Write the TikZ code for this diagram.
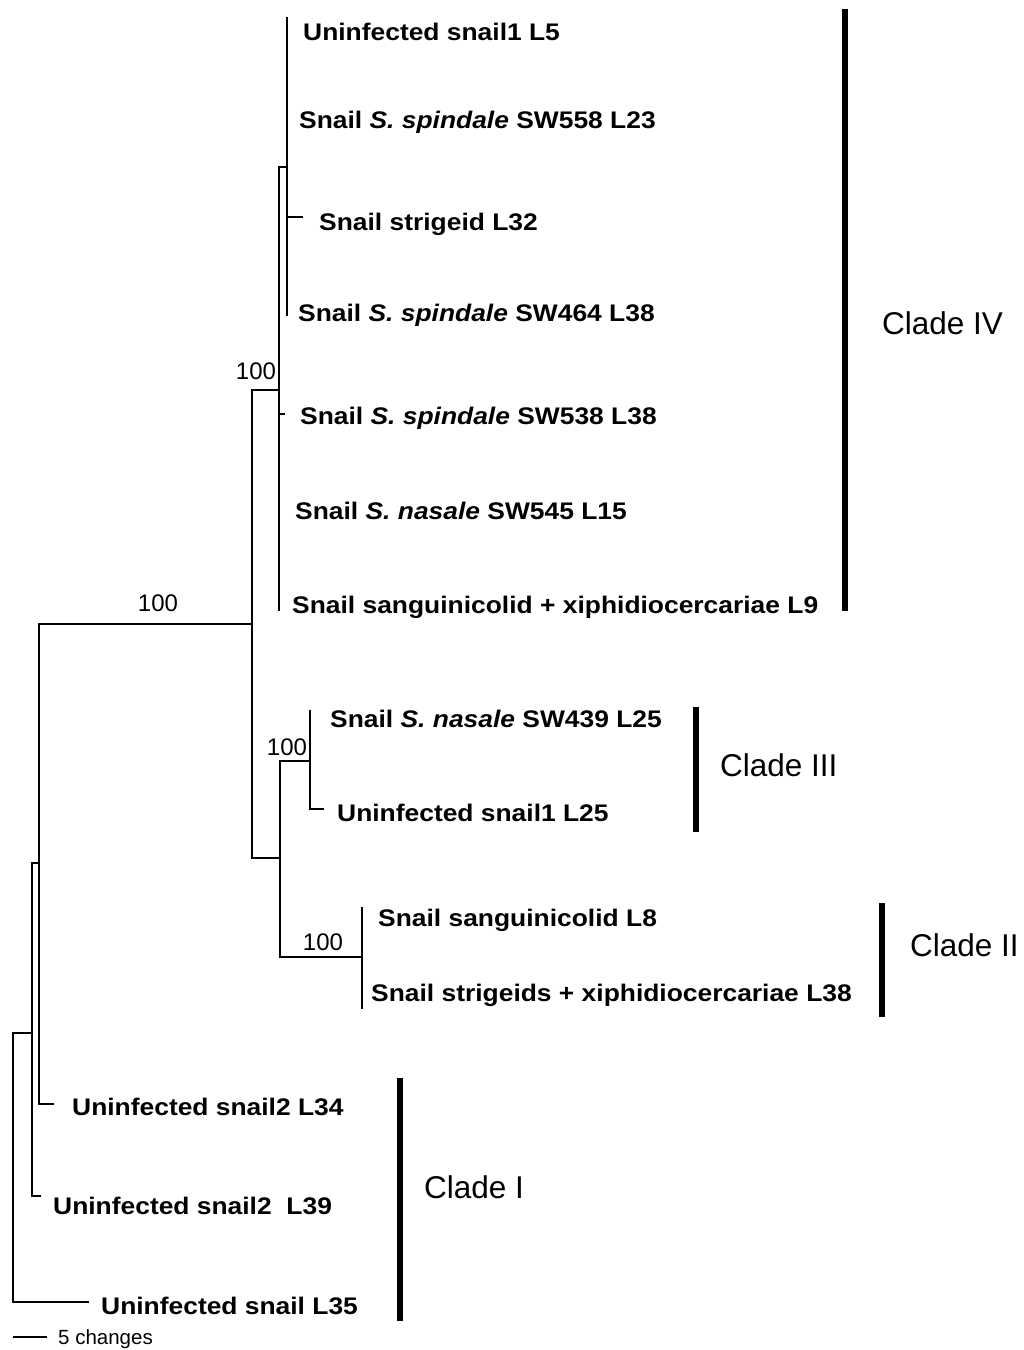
\documentclass[tikz,border=0pt]{standalone}
\usepackage{fontspec}
\setmainfont{Liberation Sans}
\newfontfamily\labfont{Liberation Sans}[FakeStretch=1.1]
\begin{document}
\begin{tikzpicture}[x=1pt,y=-1pt,
  br/.style={line width=1.4pt, line cap=rect},
  cladebar/.style={line width=6pt},
  lab/.style={font=\labfont\fontsize{24}{26}\selectfont\bfseries, inner sep=0pt, anchor=base west},
  boot/.style={font=\fontsize{24}{26}\selectfont, inner sep=0pt},
  cladelab/.style={font=\fontsize{31.5}{33}\selectfont, inner sep=0pt, anchor=west},
  scalelab/.style={font=\fontsize{20.5}{22}\selectfont, inner sep=0pt, anchor=base west}]
\useasboundingbox (0,0) rectangle (1024,1350);
\fill[white] (0,0) rectangle (1024,1350);

% internal nodes
\coordinate (R) at (13,1166);
\coordinate (H) at (32,1033);
\coordinate (D) at (39,863);
\coordinate (C) at (252,624);
\coordinate (B) at (279,390);
\coordinate (A) at (287,167);
\coordinate (E) at (280,858);
\coordinate (F) at (310,761);
\coordinate (G) at (362,957);

% tips
\coordinate (t5) at (287,18);
\coordinate (t23) at (287,120);
\coordinate (t32) at (302,217);
\coordinate (t464) at (287,315);
\coordinate (t538) at (284,414);
\coordinate (t545) at (279,511);
\coordinate (t9) at (279,610);
\coordinate (t439) at (310,711);
\coordinate (t25) at (323,809);
\coordinate (t8) at (362,908);
\coordinate (t38) at (362,1008);
\coordinate (t34) at (53,1104);
\coordinate (t39) at (40,1196);
\coordinate (t35) at (88,1302);

% verticals
\draw[br] (A|-t5) -- (A|-t464);
\draw[br] (B|-A) -- (B|-t9);
\draw[br] (C|-B) -- (C|-E);
\draw[br] (E|-F) -- (E|-G);
\draw[br] (F|-t439) -- (F|-t25);
\draw[br] (G|-t8) -- (G|-t38);
\draw[br] (D|-C) -- (D|-t34);
\draw[br] (H|-D) -- (H|-t39);
\draw[br] (R|-H) -- (R|-t35);

% horizontal branches
\draw[br] (B|-A) -- (A);
\draw[br] (C|-B) -- (B);
\draw[br] (D|-C) -- (C);
\draw[br] (C|-E) -- (E);
\draw[br] (E|-F) -- (F);
\draw[br] (E|-G) -- (G);
\draw[br] (H|-D) -- (D);
\draw[br] (R|-H) -- (H);
\draw[br] (A|-t32) -- (t32);
\draw[br] (B|-t538) -- (t538);
\draw[br] (F|-t25) -- (t25);
\draw[br] (D|-t34) -- (t34);
\draw[br] (H|-t39) -- (t39);
\draw[br] (R|-t35) -- (t35);

% taxon labels
\node[lab] (l5) at (303,40.5) {Uninfected snail1 L5};
\node[lab] (l23) at (299,128.5) {Snail \textit{S. spindale} SW558 L23};
\node[lab] (l32) at (319,230.5) {Snail strigeid L32};
\node[lab] (l464) at (298,321.5) {Snail \textit{S. spindale} SW464 L38};
\node[lab] (l538) at (300,424.5) {Snail \textit{S. spindale} SW538 L38};
\node[lab] (l545) at (295,519.5) {Snail \textit{S. nasale} SW545 L15};
\node[lab] (l9) at (292,613.5) {Snail sanguinicolid + xiphidiocercariae L9};
\node[lab] (l439) at (330,727.5) {Snail \textit{S. nasale} SW439 L25};
\node[lab] (l25) at (337,821.5) {Uninfected snail1 L25};
\node[lab] (l8) at (378,926.5) {Snail sanguinicolid L8};
\node[lab] (l38) at (371,1001.5) {Snail strigeids + xiphidiocercariae L38};
\node[lab] (l34) at (72,1115.5) {Uninfected snail2 L34};
\node[lab] (l39) at (53,1214.5) {Uninfected snail2\ \ L39};
\node[lab] (l35) at (101,1314.5) {Uninfected snail L35};

% bootstrap values
\node[boot] (b1) at (256,371) {100};
\node[boot] (b2) at (158,603) {100};
\node[boot] (b3) at (287,747) {100};
\node[boot] (b4) at (323,942) {100};

% clade bars
\coordinate (c4a) at (845,9);   \coordinate (c4b) at (845,611);
\coordinate (c3a) at (696,707); \coordinate (c3b) at (696,832);
\coordinate (c2a) at (882,903); \coordinate (c2b) at (882,1017);
\coordinate (c1a) at (400,1078); \coordinate (c1b) at (400,1321);
\draw[cladebar] (c4a) -- (c4b);
\draw[cladebar] (c3a) -- (c3b);
\draw[cladebar] (c2a) -- (c2b);
\draw[cladebar] (c1a) -- (c1b);
\node[cladelab] (k4) at (882,323) {Clade IV};
\node[cladelab] (k3) at (720,765) {Clade III};
\node[cladelab] (k2) at (910,945) {Clade II};
\node[cladelab] (k1) at (424,1187) {Clade I};

% scale bar
\coordinate (s1) at (13,1337);
\coordinate (s2) at (47,1337);
\draw[br, line cap=butt] (s1) -- (s2);
\node[scalelab] (sl) at (58,1344) {5 changes};
\end{tikzpicture}
\end{document}
